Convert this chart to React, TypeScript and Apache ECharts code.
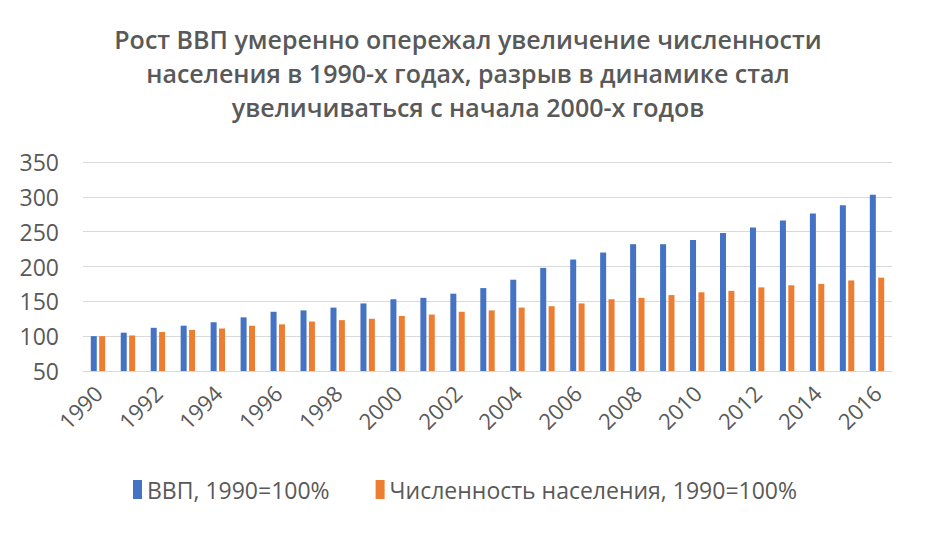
import React, { useEffect, useRef } from "react";
import * as echarts from "echarts";

const years = [
  "1990", "1991", "1992", "1993", "1994", "1995", "1996", "1997", "1998", "1999",
  "2000", "2001", "2002", "2003", "2004", "2005", "2006", "2007", "2008", "2009",
  "2010", "2011", "2012", "2013", "2014", "2015", "2016",
];
const gdp = [
  100, 105, 112, 115, 120, 127, 135, 137, 141, 147,
  153, 155, 161, 169, 181, 198, 210, 220, 232, 232,
  238, 248, 256, 266, 276, 288, 303,
];
const population = [
  100, 101, 106, 109, 111, 115, 117, 121, 123, 125,
  129, 131, 135, 137, 141, 143, 147, 153, 155, 159,
  163, 165, 170, 173, 175, 180, 184,
];
const titleText =
  "Рост ВВП умеренно опережал увеличение численности\nнаселения в 1990-х годах, разрыв в динамике стал\nувеличиваться с начала 2000-х годов";
const gdpName = "ВВП, 1990=100%";
const popName = "Численность населения, 1990=100%";

const FONT = "'Open Sans', 'Noto Sans', sans-serif";
const GREY = "#595959";

export default function App() {
  const ref = useRef<HTMLDivElement>(null);
  useEffect(() => {
    if (!ref.current) return;
    const chart = echarts.init(ref.current, undefined, { renderer: "svg" });
    chart.setOption({
      animation: false,
      backgroundColor: "#ffffff",
      title: {
        text: titleText,
        left: 463,
        top: 17,
        textAlign: "center",
        textStyle: {
          fontFamily: FONT,
          fontSize: 25,
          fontWeight: 600,
          color: GREY,
          lineHeight: 34,
        },
      },
      legend: {
        bottom: 28,
        left: "center",
        itemWidth: 9,
        itemHeight: 19,
        itemGap: 46,
        icon: "rect",
        textStyle: { fontFamily: FONT, fontSize: 23, color: GREY },
        data: [gdpName, popName],
      },
      grid: { left: 83, right: 38, top: 162, bottom: 163, containLabel: false },
      xAxis: {
        type: "category",
        data: years,
        axisLine: { lineStyle: { color: "#d9d9d9" } },
        axisTick: { show: false },
        axisLabel: {
          interval: 1,
          rotate: 45,
          fontFamily: FONT,
          fontSize: 22,
          color: GREY,
          margin: 18,
        },
      },
      yAxis: {
        type: "value",
        min: 50,
        max: 350,
        interval: 50,
        axisLine: { show: false },
        axisTick: { show: false },
        splitLine: { lineStyle: { color: "#d9d9d9", width: 1 } },
        axisLabel: { fontFamily: FONT, fontSize: 23, color: GREY, margin: 24 },
      },
      series: [
        {
          name: gdpName,
          type: "bar",
          data: gdp,
          barWidth: 6,
          barGap: "40%",
          itemStyle: { color: "#4472C4" },
        },
        {
          name: popName,
          type: "bar",
          data: population,
          barWidth: 6,
          itemStyle: { color: "#ED7D31" },
        },
      ],
    });
    return () => chart.dispose();
  }, []);
  return (
    <div
      ref={ref}
      style={{ position: "fixed", left: 0, top: 0, width: 930, height: 534 }}
    />
  );
}
